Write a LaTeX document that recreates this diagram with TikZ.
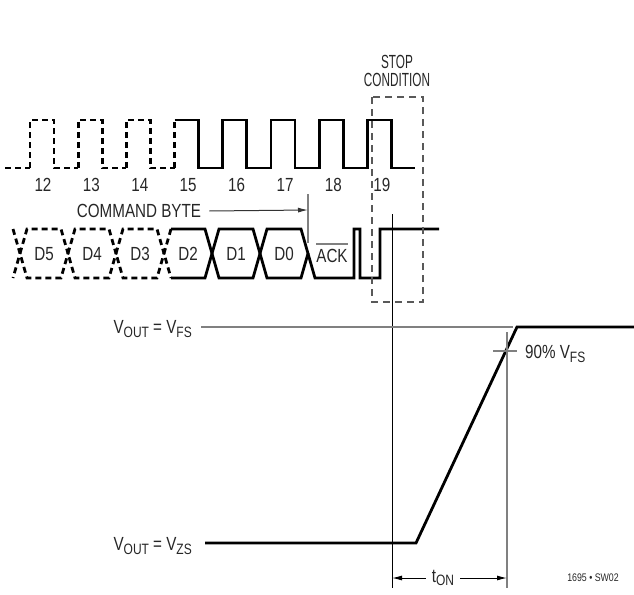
\documentclass[tikz,border=0pt]{standalone}
\usepackage{fontspec}
\setmainfont[FakeStretch=0.8]{Liberation Sans}
\newfontfamily\narrowfont[FakeStretch=0.62]{Liberation Sans}
\usetikzlibrary{positioning,arrows.meta}
\newcommand\lowsub[1]{\raisebox{-0.35ex}{\fontsize{15}{15}\selectfont #1}}

\begin{document}
\begin{tikzpicture}[x=1pt, y=-1pt,
  every node/.style = {font=\fontsize{19}{19}\selectfont, inner sep=0pt,
    text=black!85},
  wave/.style = {line width=2.8pt, line join=miter},
  dashwave/.style = {wave, dash pattern=on 6pt off 4pt},
  guide/.style = {line width=1.2pt, draw=black!50},
  refline/.style = {line width=1pt, draw=black},
  stopbox/.style = {line width=1.2pt, draw=black!65, dash pattern=on 7pt off 5pt},
  tip/.style = {line width=1pt, -{Latex[length=10pt,width=5pt]}}]

  \useasboundingbox (0,0) rectangle (634,594);

  % clock
  \draw[dashwave] (5,168) -- (30,168);
  \foreach \k in {0,1,2} {
    \pgfmathsetmacro\r{30+48.2*\k}
    \draw[dashwave] (\r,168) -- (\r,120) -- (\r+24,120) -- (\r+24,168) -- (\r+48.2,168);
  }
  \draw[dashwave] (174.6,168) -- (174.6,120);
  \draw[wave] (174.6,120) -- (198.6,120) -- (198.6,168)
    \foreach \k in {4,...,7} { -- ({30+48.2*\k},168) -- ({30+48.2*\k},120)
      -- ({54+48.2*\k},120) -- ({54+48.2*\k},168) } -- (415,168);
  \foreach \n [count=\k from 0] in {12,...,19}
    \node (clk\n) at ({43+48.4*\k},185) {\n};

  % data
  \draw[dashwave] (13,229) -- (20,253.5) -- (13,278);
  \foreach \k in {0,1,2} {
    \pgfmathsetmacro\a{20+48*\k}
    \draw[dashwave] (\a,253.5) -- (\a+7,229) -- (\a+41,229) -- (\a+48,253.5)
      -- (\a+41,278) -- (\a+7,278) -- cycle;
  }
  \draw[dashwave] (171,229) -- (164,253.5) -- (171,278);
  \draw[wave] (171,229) -- (205,229) -- (212,253.5) -- (205,278) -- (171,278);
  \draw[wave] (212,253.5) -- (219,229) -- (253,229) -- (260,253.5) -- (253,278)
    -- (219,278) -- cycle;
  \draw[wave] (260,253.5) -- (267,229) -- (301,229) -- (308,253.5) -- (301,278)
    -- (267,278) -- cycle;
  \draw[wave] (308,253.5) -- (315,278) -- (354,278) -- (354,229) -- (360,229)
    -- (360,278) -- (380,278) -- (380,229) -- (439,229);
  \foreach \t [count=\k from 0] in {D5,D4,D3,D2,D1,D0}
    \node (\t) at ({44+48*\k},254) {\t};
  \node (ack) at (332,256) {ACK};
  \draw[guide] ([yshift=5pt]ack.north west) -- ([yshift=5pt]ack.north east);

  \node (cmd) at (139,211) {COMMAND BYTE};
  \coordinate (cmd end) at (308,210);
  \coordinate (ack top) at (308,194);
  \coordinate (ack bot) at (308,243);
  \draw[guide] (ack top) -- (ack bot);
  \draw[tip, draw=black!80] ([xshift=8pt]cmd.east) -- (cmd end);

  \node[align=center, font=\narrowfont\fontsize{19}{18}\selectfont] (stop)
    at (397,71) {STOP\\CONDITION};
  \draw[stopbox] (372,97) rectangle (423,302);

  \coordinate (start top) at (392,214);
  \coordinate (start bot) at (392,588);
  \draw[refline] (start top) -- (start bot);

  % output
  \node[anchor=east] (vfs) at (192,329) {V\lowsub{OUT} = V\lowsub{FS}};
  \node[anchor=east] (vzs) at (192,546) {V\lowsub{OUT} = V\lowsub{ZS}};
  \coordinate (fs left) at (201,327);
  \coordinate (fs right) at (513,327);
  \draw[guide] (fs left) -- (fs right);
  \draw[wave] (205,543) -- (416,543) -- (517,327) -- (634,327);
  \coordinate (end top) at (507,332);
  \coordinate (end bot) at (507,588);
  \draw[guide] (end top) -- (end bot);
  \draw[guide] (493,351) -- (517,351);
  \node[anchor=west] (ninety) at (525,354) {90\% V\lowsub{FS}};

  \node (ton) at (443,578) {t\lowsub{ON}};
  \draw[tip] ([xshift=-6pt]ton.west) -- (start bot |- ton);
  \draw[tip] ([xshift=6pt]ton.east) -- (end bot |- ton);

  \node[font=\fontsize{11}{12}\selectfont] (figno) at (593,578) {1695 • SW02};
\end{tikzpicture}
\end{document}
